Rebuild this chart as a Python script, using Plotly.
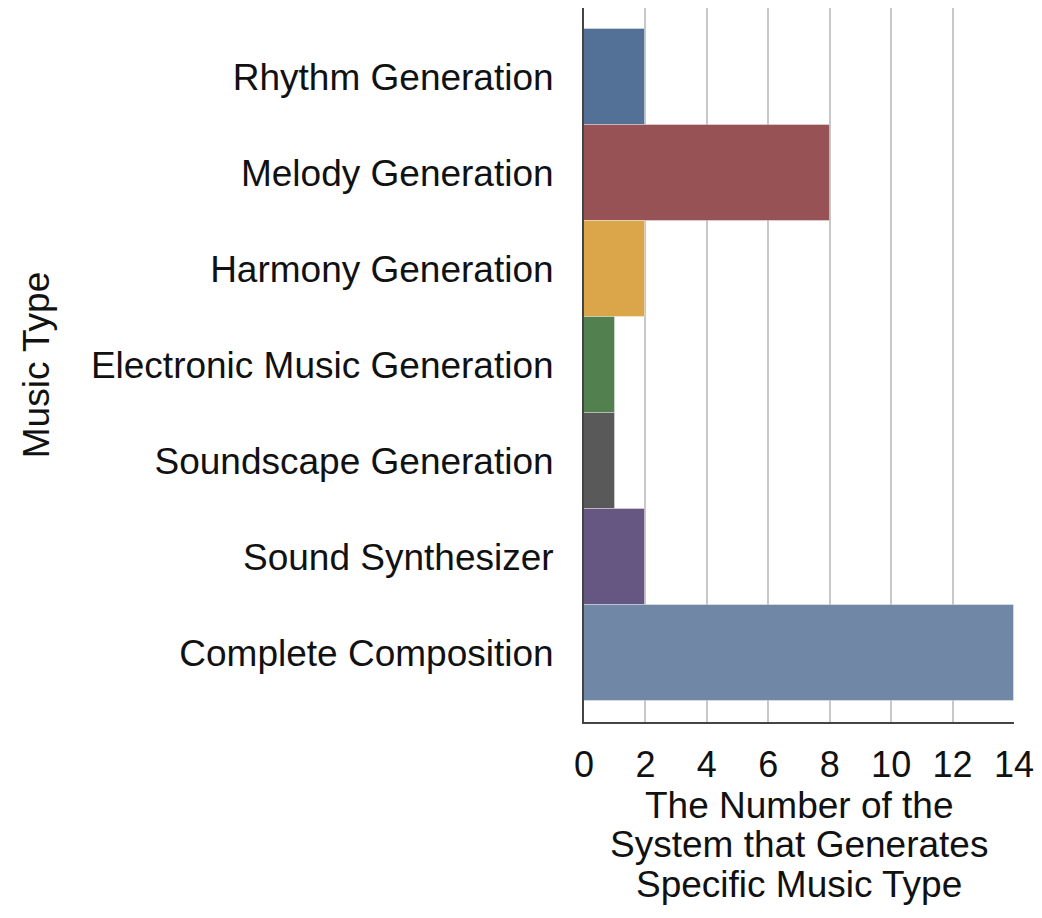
import plotly.graph_objects as go

# Music types, listed top to bottom
music_types = [
    "Rhythm Generation",
    "Melody Generation",
    "Harmony Generation",
    "Electronic Music Generation",
    "Soundscape Generation",
    "Sound Synthesizer",
    "Complete Composition",
]
system_counts = [2, 8, 2, 1, 1, 2, 14]
bar_colors = ["#537196", "#965254", "#dba64a", "#52804f", "#595959", "#655781", "#7088a6"]
x_ticks = [0, 2, 4, 6, 8, 10, 12, 14]
x_title_lines = ["The Number of the", "System that Generates", "Specific Music Type"]

FONT = "Liberation Sans, Arial, sans-serif"
PLOT_BOTTOM = 722  # pixel row of the x axis (height - bottom margin)

fig = go.Figure(
    go.Bar(
        x=system_counts,
        y=music_types,
        orientation="h",
        marker=dict(color=bar_colors, line=dict(color="rgba(255,255,255,0.35)", width=1)),
        width=1.0,
        showlegend=False,
    )
)

# x-axis title as three tightly spaced lines
for i, line in enumerate(x_title_lines):
    centre = 805 + i * 39.5
    fig.add_annotation(
        text=line,
        xref="paper", yref="paper",
        x=0.5, y=0,
        xanchor="center", yanchor="middle",
        yshift=-(centre - PLOT_BOTTOM),
        showarrow=False,
        font=dict(family=FONT, size=37, color="#111111"),
    )

fig.update_layout(
    width=1042,
    height=918,
    margin=dict(l=584, r=26, t=8, b=918 - PLOT_BOTTOM),
    paper_bgcolor="white",
    plot_bgcolor="white",
    font=dict(family=FONT, color="#111111", size=37),
    bargap=0,
    xaxis=dict(
        range=[0, 14],
        tickvals=x_ticks,
        ticktext=[str(v) for v in x_ticks],
        tickfont=dict(size=36),
        showgrid=True,
        gridcolor="#c8c8c8",
        gridwidth=1.5,
        zeroline=False,
        showline=True,
        linecolor="#444444",
        linewidth=2,
        ticks="",
        ticklabelstandoff=10,
    ),
    yaxis=dict(
        categoryorder="array",
        categoryarray=music_types,
        range=[6.717, -0.717],
        showgrid=False,
        zeroline=False,
        showline=True,
        linecolor="#444444",
        linewidth=2,
        ticks="",
        tickfont=dict(size=37),
        ticklabelstandoff=21,
        title=dict(text="Music Type", font=dict(size=37), standoff=30),
    ),
)

fig.write_html("out.html")
